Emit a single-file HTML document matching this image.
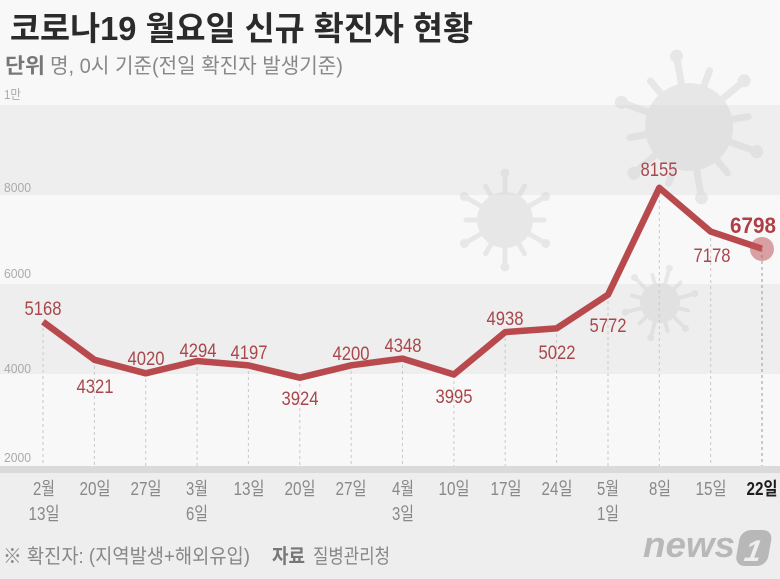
<!DOCTYPE html>
<html><head><meta charset="utf-8">
<style>
html,body{margin:0;padding:0;background:#f8f8f8;}
svg{display:block;}
text{font-family:"Liberation Sans","Noto Sans CJK KR",sans-serif;}
</style></head>
<body>
<svg width="780" height="579" viewBox="0 0 780 579" xmlns="http://www.w3.org/2000/svg">
<rect x="0" y="0" width="780" height="579" fill="#f8f8f8"/>
<rect x="0" y="105" width="780" height="90" fill="#eeeeee"/>
<rect x="0" y="284" width="780" height="90" fill="#eeeeee"/>
<rect x="0" y="466" width="780" height="7" fill="#dadada"/>
<rect x="0" y="473" width="780" height="106" fill="#eeeeee"/>

<!-- viruses -->
<g opacity="0.4" fill="#d0d0d0" stroke="#d0d0d0" stroke-linecap="round">
 <g transform="translate(689,127)">
  <circle r="44" stroke="none"/>
  <g transform="rotate(-10)"><line y1="-40" y2="-70" stroke-width="7"/><circle cy="-72" r="6.5" stroke="none"/></g>
  <g transform="rotate(20)"><line y1="-40" y2="-60" stroke-width="7"/></g>
  <g transform="rotate(50)"><line y1="-40" y2="-70" stroke-width="7"/><circle cy="-72" r="6.5" stroke="none"/></g>
  <g transform="rotate(80)"><line y1="-40" y2="-60" stroke-width="7"/></g>
  <g transform="rotate(110)"><line y1="-40" y2="-70" stroke-width="7"/><circle cy="-72" r="6.5" stroke="none"/></g>
  <g transform="rotate(140)"><line y1="-40" y2="-60" stroke-width="7"/></g>
  <g transform="rotate(170)"><line y1="-40" y2="-70" stroke-width="7"/><circle cy="-72" r="6.5" stroke="none"/></g>
  <g transform="rotate(200)"><line y1="-40" y2="-60" stroke-width="7"/></g>
  <g transform="rotate(230)"><line y1="-40" y2="-70" stroke-width="7"/><circle cy="-72" r="6.5" stroke="none"/></g>
  <g transform="rotate(260)"><line y1="-40" y2="-60" stroke-width="7"/></g>
  <g transform="rotate(290)"><line y1="-40" y2="-70" stroke-width="7"/><circle cy="-72" r="6.5" stroke="none"/></g>
  <g transform="rotate(320)"><line y1="-40" y2="-60" stroke-width="7"/></g>
 </g>
 <g transform="translate(505,220)">
  <circle r="28" stroke="none"/>
  <g transform="rotate(0)"><line y1="-25" y2="-45" stroke-width="5"/><circle cy="-47" r="4.5" stroke="none"/></g>
  <g transform="rotate(30)"><line y1="-25" y2="-39" stroke-width="5"/></g>
  <g transform="rotate(60)"><line y1="-25" y2="-45" stroke-width="5"/><circle cy="-47" r="4.5" stroke="none"/></g>
  <g transform="rotate(90)"><line y1="-25" y2="-39" stroke-width="5"/></g>
  <g transform="rotate(120)"><line y1="-25" y2="-45" stroke-width="5"/><circle cy="-47" r="4.5" stroke="none"/></g>
  <g transform="rotate(150)"><line y1="-25" y2="-39" stroke-width="5"/></g>
  <g transform="rotate(180)"><line y1="-25" y2="-45" stroke-width="5"/><circle cy="-47" r="4.5" stroke="none"/></g>
  <g transform="rotate(210)"><line y1="-25" y2="-39" stroke-width="5"/></g>
  <g transform="rotate(240)"><line y1="-25" y2="-45" stroke-width="5"/><circle cy="-47" r="4.5" stroke="none"/></g>
  <g transform="rotate(270)"><line y1="-25" y2="-39" stroke-width="5"/></g>
  <g transform="rotate(300)"><line y1="-25" y2="-45" stroke-width="5"/><circle cy="-47" r="4.5" stroke="none"/></g>
  <g transform="rotate(330)"><line y1="-25" y2="-39" stroke-width="5"/></g>
 </g>
 <g transform="translate(660,303)">
  <circle r="20" stroke="none"/>
  <g transform="rotate(15)"><line y1="-18" y2="-34" stroke-width="4"/><circle cy="-36" r="3.5" stroke="none"/></g>
  <g transform="rotate(45)"><line y1="-18" y2="-29" stroke-width="4"/></g>
  <g transform="rotate(75)"><line y1="-18" y2="-34" stroke-width="4"/><circle cy="-36" r="3.5" stroke="none"/></g>
  <g transform="rotate(105)"><line y1="-18" y2="-29" stroke-width="4"/></g>
  <g transform="rotate(135)"><line y1="-18" y2="-34" stroke-width="4"/><circle cy="-36" r="3.5" stroke="none"/></g>
  <g transform="rotate(165)"><line y1="-18" y2="-29" stroke-width="4"/></g>
  <g transform="rotate(195)"><line y1="-18" y2="-34" stroke-width="4"/><circle cy="-36" r="3.5" stroke="none"/></g>
  <g transform="rotate(225)"><line y1="-18" y2="-29" stroke-width="4"/></g>
  <g transform="rotate(255)"><line y1="-18" y2="-34" stroke-width="4"/><circle cy="-36" r="3.5" stroke="none"/></g>
  <g transform="rotate(285)"><line y1="-18" y2="-29" stroke-width="4"/></g>
  <g transform="rotate(315)"><line y1="-18" y2="-34" stroke-width="4"/><circle cy="-36" r="3.5" stroke="none"/></g>
  <g transform="rotate(345)"><line y1="-18" y2="-29" stroke-width="4"/></g>
 </g>
</g>

<!-- title -->
<text x="10" y="40" font-size="33" font-weight="bold" fill="#2b2b2b" textLength="463" lengthAdjust="spacingAndGlyphs">코로나19 월요일 신규 확진자 현황</text>
<text x="5" y="73" font-size="21" font-weight="bold" fill="#777" textLength="40" lengthAdjust="spacingAndGlyphs">단위</text>
<text x="50" y="73" font-size="21" fill="#888" textLength="293" lengthAdjust="spacingAndGlyphs">명, 0시 기준(전일 확진자 발생기준)</text>

<!-- y labels -->
<g font-size="13" fill="#aaa">
<text x="4" y="99" textLength="17" lengthAdjust="spacingAndGlyphs">1만</text>
<text x="4" y="192" textLength="27" lengthAdjust="spacingAndGlyphs">8000</text>
<text x="4" y="278" textLength="27" lengthAdjust="spacingAndGlyphs">6000</text>
<text x="4" y="373" textLength="27" lengthAdjust="spacingAndGlyphs">4000</text>
<text x="4" y="462" textLength="27" lengthAdjust="spacingAndGlyphs">2000</text>
</g>

<!-- dashed drop lines -->
<g stroke="#c9c9c9" stroke-width="1" stroke-dasharray="3,3">
<line x1="43" y1="322" x2="43" y2="466"/>
<line x1="94.4" y1="360" x2="94.4" y2="466"/>
<line x1="145.7" y1="373" x2="145.7" y2="466"/>
<line x1="197.1" y1="361" x2="197.1" y2="466"/>
<line x1="248.4" y1="365" x2="248.4" y2="466"/>
<line x1="299.8" y1="378" x2="299.8" y2="466"/>
<line x1="351.2" y1="365" x2="351.2" y2="466"/>
<line x1="402.5" y1="359" x2="402.5" y2="466"/>
<line x1="453.9" y1="375" x2="453.9" y2="466"/>
<line x1="505.2" y1="332" x2="505.2" y2="466"/>
<line x1="556.6" y1="328" x2="556.6" y2="466"/>
<line x1="608" y1="295" x2="608" y2="466"/>
<line x1="659.3" y1="188" x2="659.3" y2="466"/>
<line x1="710.7" y1="232" x2="710.7" y2="466"/>
<line x1="762" y1="249" x2="762" y2="466" stroke="#999"/>
</g>

<!-- line -->
<polyline fill="none" stroke="#b84a4e" stroke-width="6.5" stroke-linejoin="round" stroke-linecap="butt"
 points="43,321.8 94.4,359.8 145.7,373.3 197.1,361 248.4,365.4 299.8,377.7 351.2,365.3 402.5,358.6 453.9,374.5 505.2,332.1 556.6,328.4 608,294.7 659.3,187.8 710.7,231.6 762,248.7"/>
<circle cx="762" cy="249" r="12" fill="#c0585c" opacity="0.55"/>

<!-- data labels -->
<g font-size="19" fill="#a9474c" text-anchor="middle">
<text x="43" y="315" textLength="37" lengthAdjust="spacingAndGlyphs">5168</text>
<text x="95" y="393" textLength="37" lengthAdjust="spacingAndGlyphs">4321</text>
<text x="146" y="365" textLength="37" lengthAdjust="spacingAndGlyphs">4020</text>
<text x="198" y="357" textLength="37" lengthAdjust="spacingAndGlyphs">4294</text>
<text x="249" y="359" textLength="37" lengthAdjust="spacingAndGlyphs">4197</text>
<text x="300" y="405" textLength="37" lengthAdjust="spacingAndGlyphs">3924</text>
<text x="351" y="360" textLength="37" lengthAdjust="spacingAndGlyphs">4200</text>
<text x="403" y="352" textLength="37" lengthAdjust="spacingAndGlyphs">4348</text>
<text x="454" y="403" textLength="37" lengthAdjust="spacingAndGlyphs">3995</text>
<text x="505" y="325" textLength="37" lengthAdjust="spacingAndGlyphs">4938</text>
<text x="557" y="359" textLength="37" lengthAdjust="spacingAndGlyphs">5022</text>
<text x="608" y="332" textLength="37" lengthAdjust="spacingAndGlyphs">5772</text>
<text x="659" y="176" textLength="37" lengthAdjust="spacingAndGlyphs">8155</text>
<text x="712" y="262" textLength="37" lengthAdjust="spacingAndGlyphs">7178</text>
<text x="753" y="233" font-size="22" font-weight="bold" fill="#b03f45" textLength="46" lengthAdjust="spacingAndGlyphs">6798</text>
</g>

<!-- x labels -->
<g font-size="18" fill="#888" text-anchor="middle">
<text x="44" y="495" textLength="22" lengthAdjust="spacingAndGlyphs">2월</text>
<text x="44" y="520" textLength="31" lengthAdjust="spacingAndGlyphs">13일</text>
<text x="95" y="495" textLength="31" lengthAdjust="spacingAndGlyphs">20일</text>
<text x="146" y="495" textLength="31" lengthAdjust="spacingAndGlyphs">27일</text>
<text x="197" y="495" textLength="22" lengthAdjust="spacingAndGlyphs">3월</text>
<text x="197" y="520" textLength="22" lengthAdjust="spacingAndGlyphs">6일</text>
<text x="249" y="495" textLength="31" lengthAdjust="spacingAndGlyphs">13일</text>
<text x="300" y="495" textLength="31" lengthAdjust="spacingAndGlyphs">20일</text>
<text x="351" y="495" textLength="31" lengthAdjust="spacingAndGlyphs">27일</text>
<text x="403" y="495" textLength="22" lengthAdjust="spacingAndGlyphs">4월</text>
<text x="403" y="520" textLength="22" lengthAdjust="spacingAndGlyphs">3일</text>
<text x="454" y="495" textLength="31" lengthAdjust="spacingAndGlyphs">10일</text>
<text x="506" y="495" textLength="31" lengthAdjust="spacingAndGlyphs">17일</text>
<text x="557" y="495" textLength="31" lengthAdjust="spacingAndGlyphs">24일</text>
<text x="608" y="495" textLength="22" lengthAdjust="spacingAndGlyphs">5월</text>
<text x="608" y="520" textLength="22" lengthAdjust="spacingAndGlyphs">1일</text>
<text x="660" y="495" textLength="22" lengthAdjust="spacingAndGlyphs">8일</text>
<text x="711" y="495" textLength="31" lengthAdjust="spacingAndGlyphs">15일</text>
<text x="762" y="495" font-weight="bold" fill="#1e1e1e" textLength="31" lengthAdjust="spacingAndGlyphs">22일</text>
</g>

<!-- footer -->
<text x="3" y="563" font-size="20" fill="#888" textLength="247" lengthAdjust="spacingAndGlyphs">※ 확진자: (지역발생+해외유입)</text>
<text x="272" y="563" font-size="20" font-weight="bold" fill="#777" textLength="33" lengthAdjust="spacingAndGlyphs">자료</text>
<text x="313" y="563" font-size="20" fill="#888" textLength="77" lengthAdjust="spacingAndGlyphs">질병관리청</text>

<!-- news1 logo -->
<text x="643" y="557" font-size="36" font-weight="bold" font-style="italic" fill="#b8b8b8" textLength="92" lengthAdjust="spacingAndGlyphs">news</text>
<g transform="translate(737,530) skewX(-10)">
 <rect x="4" y="0" width="32" height="36" rx="10" fill="#b8b8b8"/>
 <text x="20" y="31" font-size="30" font-weight="bold" font-style="italic" fill="#eeeeee" text-anchor="middle">1</text>
</g>
</svg>
</body></html>
